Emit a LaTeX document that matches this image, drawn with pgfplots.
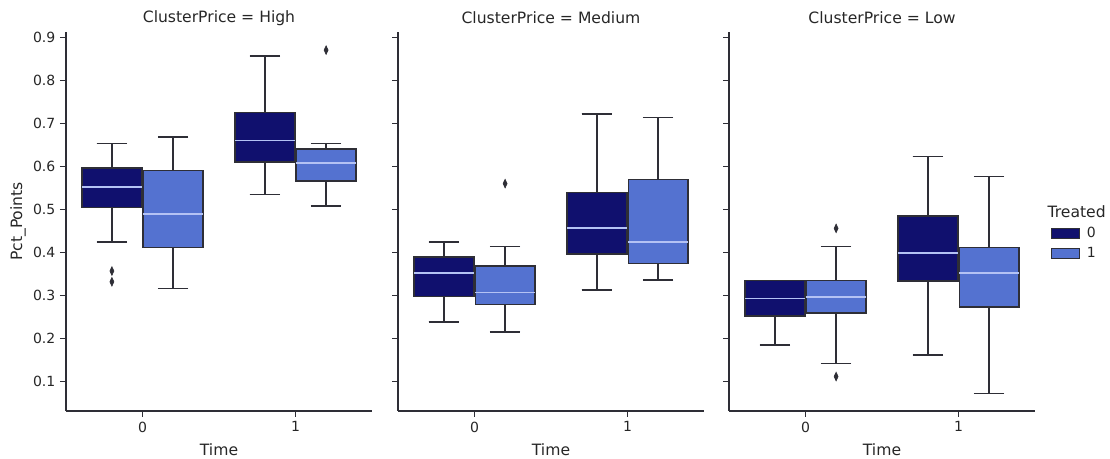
\documentclass[border=0pt]{standalone}
\usepackage{pgfplots}
\pgfplotsset{compat=1.18}
\usepgfplotslibrary{statistics}
\usepackage{fontspec}
\setmainfont{DejaVu Sans}
\definecolor{navyc}{HTML}{10106E}
\definecolor{royalc}{HTML}{5472D0}
\definecolor{edgec}{HTML}{2E2E36}
\definecolor{medc}{HTML}{B4C2F4}
\pgfplotsset{
  every axis title shift=0pt,
  facet/.style={
    scale only axis, width=229.5pt, height=284.25pt,
    xmin=-0.5, xmax=1.5, ymin=0.032, ymax=0.912,
    axis x line*=bottom, axis y line*=left,
    axis line style={edgec, line width=1pt},
    tick align=outside, major tick length=4.5pt,
    tick style={edgec, line width=0.8pt},
    xtick={0,1}, xticklabels={0,1},
    ytick={0.1,0.2,0.3,0.4,0.5,0.6,0.7,0.8,0.9},
    /pgf/number format/assume math mode=true,
    /pgf/number format/fixed, /pgf/number format/precision=1,
    /pgf/number format/fixed zerofill,
    tick label style={font=\fontsize{10.5}{12}\selectfont, text=black!85},
    label style={font=\fontsize{11.7}{13}\selectfont, text=black!85},
    title style={font=\fontsize{11.7}{13}\selectfont, text=black!85, at={(axis description cs:0.5,1.037)}, anchor=center},
    xlabel={Time},
    xlabel style={at={(axis description cs:0.5,-0.103)}, anchor=center},
    boxplot/draw direction=y,
    boxplot/box extend=0.39,
    boxplot/whisker extend=0.2,
    boxplot/every median/.style={draw=medc, line width=1.3pt},
  },
  t0/.style={forget plot, fill=navyc, draw=edgec, line width=1.15pt, solid,
    mark=diamond*, mark size=3.2pt, mark options={fill=edgec, draw=edgec, xscale=0.62, line width=0.5pt}},
  t1/.style={forget plot, fill=royalc, draw=edgec, line width=1.15pt, solid,
    mark=diamond*, mark size=3.2pt, mark options={fill=edgec, draw=edgec, xscale=0.62, line width=0.5pt}},
}
\begin{document}
\begin{tikzpicture}
\useasboundingbox (0,0) rectangle (832.5pt,344.25pt);
% ---------- High ----------
\begin{axis}[facet, at={(49.5pt,36pt)}, anchor=south west,
  title={ClusterPrice = High},
  ylabel={Pct\_Points},
  ylabel style={at={(axis description cs:-0.157,0.5)}, anchor=center, rotate=0}]
\addplot[t0, boxplot prepared={draw position=-0.2,
  lower whisker=0.424, lower quartile=0.505, median=0.552, upper quartile=0.596, upper whisker=0.653}]
  coordinates {(0,0.357) (0,0.332)};
\addplot[t1, boxplot prepared={draw position=0.2,
  lower whisker=0.316, lower quartile=0.412, median=0.489, upper quartile=0.590, upper whisker=0.668}]
  coordinates {};
\addplot[t0, boxplot prepared={draw position=0.8,
  lower whisker=0.535, lower quartile=0.610, median=0.660, upper quartile=0.725, upper whisker=0.856}]
  coordinates {};
\addplot[t1, boxplot prepared={draw position=1.2,
  lower whisker=0.508, lower quartile=0.566, median=0.608, upper quartile=0.640, upper whisker=0.653}]
  coordinates {(0,0.870)};
\end{axis}
% ---------- Medium ----------
\begin{axis}[facet, at={(298.5pt,36pt)}, anchor=south west,
  title={ClusterPrice = Medium}, yticklabels={}]
\addplot[t0, boxplot prepared={draw position=-0.2,
  lower whisker=0.239, lower quartile=0.298, median=0.353, upper quartile=0.389, upper whisker=0.424}]
  coordinates {};
\addplot[t1, boxplot prepared={draw position=0.2,
  lower whisker=0.216, lower quartile=0.279, median=0.307, upper quartile=0.369, upper whisker=0.414}]
  coordinates {(0,0.560)};
\addplot[t0, boxplot prepared={draw position=0.8,
  lower whisker=0.313, lower quartile=0.397, median=0.457, upper quartile=0.539, upper whisker=0.722}]
  coordinates {};
\addplot[t1, boxplot prepared={draw position=1.2,
  lower whisker=0.336, lower quartile=0.374, median=0.424, upper quartile=0.570, upper whisker=0.713}]
  coordinates {};
\end{axis}
% ---------- Low ----------
\begin{axis}[facet, at={(546.75pt,36pt)}, anchor=south west,
  title={ClusterPrice = Low}, yticklabels={}, clip=false,
  legend style={at={(axis description cs:1.05,0.493)}, anchor=north west,
    draw=none, fill=none, inner sep=0pt, row sep=2pt,
    font=\fontsize{10.5}{12}\selectfont, text=black!85},
  legend cell align=left,
  legend image code/.code={\draw[#1, line width=0.8pt] (0pt,-3.75pt) rectangle (21pt,3.75pt);}]
\addlegendimage{fill=navyc, draw=edgec}
\addlegendentry{\hspace{3.5pt}0}
\addlegendimage{fill=royalc, draw=edgec}
\addlegendentry{\hspace{3.5pt}1}
\addplot[t0, boxplot prepared={draw position=-0.2,
  lower whisker=0.185, lower quartile=0.253, median=0.293, upper quartile=0.335, upper whisker=0.335}]
  coordinates {};
\addplot[t1, boxplot prepared={draw position=0.2,
  lower whisker=0.142, lower quartile=0.259, median=0.297, upper quartile=0.335, upper whisker=0.414}]
  coordinates {(0,0.456) (0,0.112)};
\addplot[t0, boxplot prepared={draw position=0.8,
  lower whisker=0.162, lower quartile=0.334, median=0.399, upper quartile=0.485, upper whisker=0.623}]
  coordinates {};
\addplot[t1, boxplot prepared={draw position=1.2,
  lower whisker=0.073, lower quartile=0.273, median=0.353, upper quartile=0.412, upper whisker=0.577}]
  coordinates {};
\node[font=\fontsize{11.7}{13}\selectfont, text=black!85] at (axis description cs:1.136,0.525) {Treated};
\end{axis}
\end{tikzpicture}
\end{document}
